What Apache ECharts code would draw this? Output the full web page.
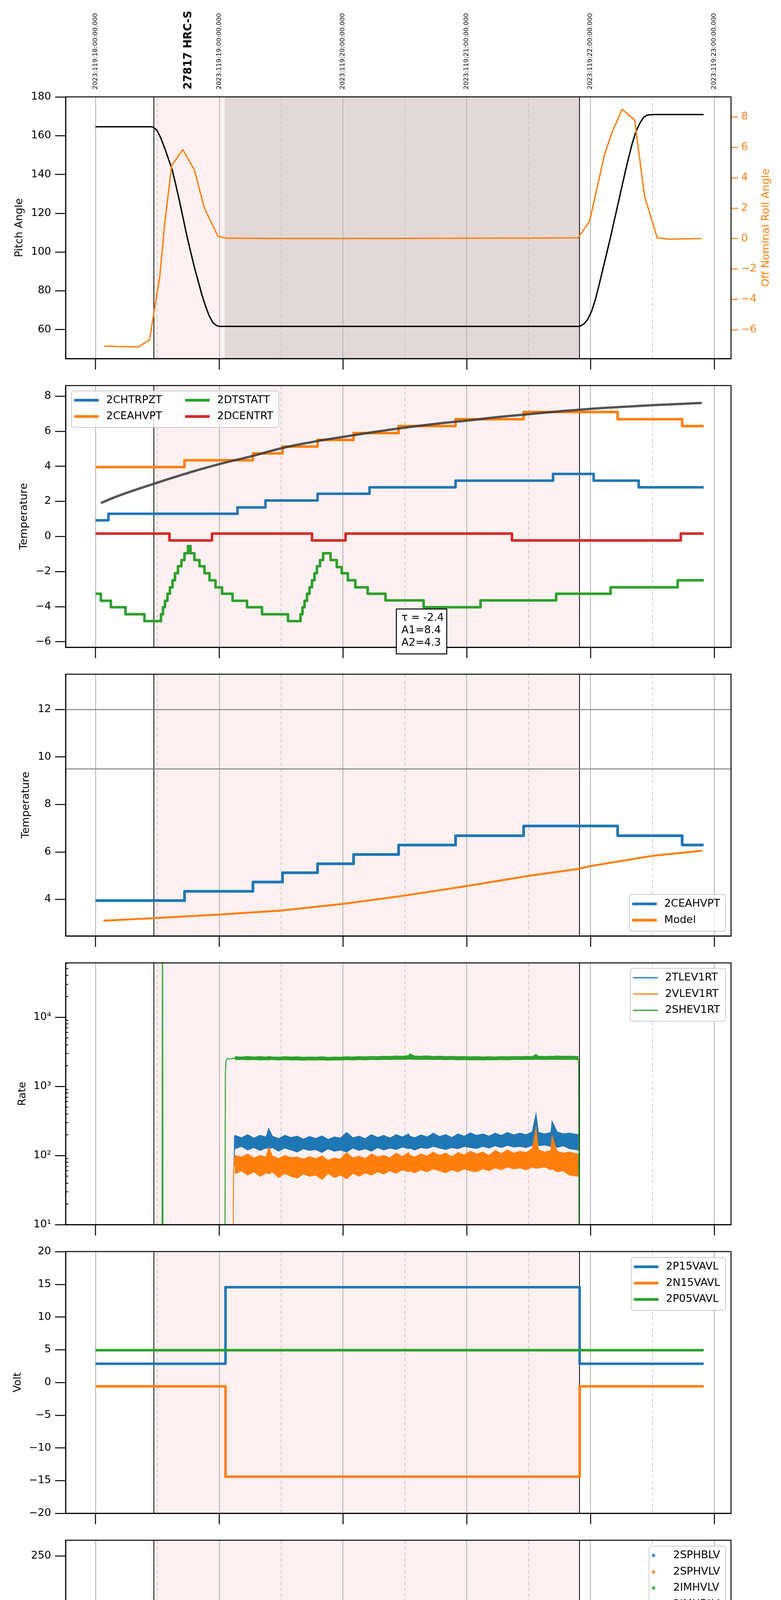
<!DOCTYPE html>
<html><head><meta charset="utf-8">
<script src="https://cdn.jsdelivr.net/npm/echarts@6/dist/echarts.min.js"></script>
<style>html,body{margin:0;padding:0;background:#fff}#c{width:2000px;height:6200px}</style>
</head><body><div id="c"></div>
<script>
// ---------------- DATA ----------------
const HOUR_TICKS = [14, 15, 16, 17, 18, 19];
const HALF_HOURS = [14.5, 15.5, 16.5, 17.5, 18.5];
const BOTTOM_LABEL_VALUES = [14, 14.5, 15, 15.5, 16, 16.5, 17, 17.5, 18, 18.5, 19];
const MINOR_LABEL = '30';
const UTC_LABELS = ['2023:119:18:00:00.000', '2023:119:19:00:00.000', '2023:119:20:00:00.000',
  '2023:119:21:00:00.000', '2023:119:22:00:00.000', '2023:119:23:00:00.000'];
const X_TITLE = '2023-04-29 (119)';
const OBSID_LABEL = '27817 HRC-S';
const FIT_TEXT = ['τ = -2.4', 'A1=8.4', 'A2=4.3'];
const OBS_START = 14.473, OBS_END = 17.913, DARK_START = 15.044;
const LIMIT_LINES_P3 = [12, 9.5];

const PITCH_TICKS = [60, 80, 100, 120, 140, 160, 180];
const ROLL_TICKS = [-6, -4, -2, 0, 2, 4, 6, 8];
const TEMP_TICKS = [-6, -4, -2, 0, 2, 4, 6, 8];
const CEA_TICKS = [4, 6, 8, 10, 12];
const RATE_TICKS = [10, 100, 1000, 10000];
const RATE_MINOR = [20, 30, 40, 50, 60, 70, 80, 90, 200, 300, 400, 500, 600, 700, 800, 900,
  2000, 3000, 4000, 5000, 6000, 7000, 8000, 9000, 20000, 30000, 40000, 50000, 60000];
const VOLT_TICKS = [-20, -15, -10, -5, 0, 5, 10, 15, 20];
const HV_TICKS = [0, 50, 100, 150, 200, 250];
const DET_TICKS = [0, 2.5, 5, 7.5, 10, 12.5, 15, 17.5];
const FEA_TICKS = [-10, -8, -6, -4, -2, 0];

// Panel 1
const pitch = [[14.0,164.6],[14.45,164.6],[14.47,164.3],[14.5,162.5],[14.53,158.5],[14.56,153.5],[14.59,148],
  [14.62,142.5],[14.65,134.5],[14.68,126],[14.71,117],[14.74,108],[14.77,100],[14.8,92],[14.83,85],[14.86,78],
  [14.89,72],[14.92,67],[14.95,63.5],[14.98,62],[15.0,61.6],[17.913,61.6],[17.95,63],[17.98,65.5],[18.01,69.5],
  [18.04,75.5],[18.07,83],[18.1,91],[18.13,99],[18.16,107],[18.19,115.5],[18.22,124],[18.25,132.5],[18.28,141],
  [18.31,149],[18.34,156.5],[18.37,162.5],[18.4,166.5],[18.43,169.5],[18.46,170.6],[18.5,170.9],[18.915,170.9]];
const roll = [[14.073,-7.07],[14.255,-7.12],[14.348,-7.12],[14.437,-6.68],[14.52,-2.5],[14.56,1.0],[14.616,4.8],
  [14.706,5.85],[14.8,4.5],[14.88,2.0],[14.99,0.15],[15.06,0.02],[15.5,0.0],[16.0,0.0],[16.5,0.01],[17.0,0.02],
  [17.5,0.03],[17.9,0.05],[17.993,1.13],[18.115,5.56],[18.175,7.0],[18.256,8.5],[18.357,7.8],[18.438,2.76],
  [18.54,0.04],[18.64,-0.04],[18.9,0.0]];

// Panel 2
const chtrpzt = [[14.0,0.92],[14.105,1.29],[15.148,1.65],[15.374,2.05],[15.795,2.43],[16.215,2.8],[16.91,3.18],
  [17.698,3.56],[18.026,3.18],[18.39,2.8],[18.915,2.8]];
const ceahvpt = [[14.0,3.95],[14.72,4.34],[15.273,4.73],[15.512,5.12],[15.795,5.5],[16.086,5.89],[16.45,6.29],
  [16.91,6.68],[17.46,7.09],[18.22,6.68],[18.741,6.29],[18.915,6.29]];
const dtstatt = [[14.0,-3.27],[14.044,-3.67],[14.125,-4.04],[14.243,-4.44],[14.396,-4.83],
  [14.53,-4.44],[14.546,-4.04],[14.562,-3.67],[14.582,-3.27],[14.602,-2.9],[14.623,-2.5],[14.643,-2.1],
  [14.667,-1.7],[14.695,-1.35],[14.72,-0.96],[14.748,-0.55],[14.768,-0.96],[14.8,-1.35],[14.841,-1.7],
  [14.881,-2.1],[14.922,-2.5],[14.97,-2.9],[15.023,-3.27],[15.108,-3.67],[15.225,-4.04],[15.346,-4.44],
  [15.556,-4.83],[15.657,-4.44],[15.673,-4.04],[15.69,-3.67],[15.71,-3.27],[15.73,-2.9],[15.75,-2.5],
  [15.77,-2.1],[15.79,-1.7],[15.815,-1.35],[15.84,-0.96],[15.9,-1.35],[15.95,-1.75],[15.99,-2.1],[16.04,-2.5],
  [16.1,-2.9],[16.2,-3.27],[16.344,-3.65],[16.652,-4.04],[17.112,-3.65],[17.723,-3.27],[18.163,-2.9],
  [18.705,-2.5],[18.915,-2.5]];
const dcentrt = [[14.0,0.16],[14.598,-0.23],[14.942,0.16],[15.75,-0.23],[16.021,0.16],[17.366,-0.23],
  [18.73,0.16],[18.915,0.16]];
const model2 = [[14.044,1.9],[14.2,2.35],[14.473,3.0],[14.75,3.62],[15.0,4.12],[15.25,4.55],[15.5,5.02],
  [15.75,5.38],[16.0,5.67],[16.25,5.95],[16.5,6.2],[16.75,6.42],[17.0,6.6],[17.25,6.8],[17.5,6.97],
  [17.75,7.13],[18.0,7.27],[18.25,7.38],[18.5,7.48],[18.75,7.56],[18.9,7.61]];

// Panel 3
const model3 = [[14.065,3.1],[14.473,3.21],[15.002,3.36],[15.5,3.53],[16.0,3.81],[16.5,4.16],[17.0,4.56],
  [17.5,4.99],[17.909,5.29],[17.998,5.4],[18.499,5.83],[18.903,6.05]];

// Panel 4 (rates)
const rateTimes = [15.13,15.18,15.23,15.28,15.33,15.38,15.40,15.43,15.48,15.53,
  15.58,15.63,15.68,15.73,15.78,15.83,15.88,15.93,15.98,16.03,
  16.08,16.13,16.18,16.23,16.28,16.33,16.38,16.43,16.48,16.53,
  16.54,16.58,16.63,16.68,16.73,16.78,16.83,16.88,16.93,16.98,
  17.03,17.08,17.13,17.18,17.23,17.28,17.33,17.38,17.43,17.48,
  17.53,17.56,17.58,17.63,17.68,17.69,17.73,17.78,17.83,17.90];
const tlevHigh = [195,180,200,178,195,185,245,190,175,195,
  182,190,172,188,176,192,170,185,178,215,
  180,190,175,200,182,195,178,200,185,205,
  190,180,198,185,210,188,200,182,205,190,
  212,195,205,190,210,195,215,198,210,200,
  220,400,215,205,215,310,220,205,210,200];
const tlevLow = [125,135,120,130,118,128,125,130,115,128,
  120,112,125,118,122,110,125,115,120,112,
  128,118,125,115,130,120,128,122,132,125,
  128,120,130,126,135,128,122,130,125,135,
  130,126,135,128,138,130,140,132,135,130,
  140,135,138,142,135,140,130,138,125,120];
const vlevHigh = [100,95,105,92,100,95,130,98,90,100,
  93,95,88,96,90,98,85,92,88,110,
  92,98,90,105,95,100,92,108,96,110,
  100,95,105,98,112,100,108,96,110,102,
  115,105,112,100,118,106,120,108,115,110,
  125,250,120,112,118,190,115,108,112,105];
const vlevLow = [55,60,52,58,50,56,54,58,48,55,
  50,47,54,50,52,45,55,48,52,46,
  55,50,56,52,58,54,60,55,62,58,
  60,56,62,58,64,60,56,62,58,64,
  60,58,64,60,66,62,68,64,66,62,
  68,65,66,68,62,64,58,60,52,50];
const shevHigh = [2680,2650,2700,2660,2690,2650,2700,2660,2640,2680,
  2650,2670,2630,2660,2640,2670,2620,2650,2640,2680,
  2660,2690,2670,2700,2680,2720,2700,2740,2720,2780,
  2950,2740,2720,2750,2700,2730,2690,2710,2680,2700,
  2670,2690,2660,2680,2660,2690,2670,2700,2680,2710,
  2690,2880,2720,2700,2730,2710,2740,2720,2730,2700];
const shevLow = [2420,2440,2410,2430,2400,2420,2410,2430,2390,2420,
  2400,2410,2380,2400,2390,2410,2380,2400,2390,2420,
  2400,2430,2410,2440,2420,2450,2430,2460,2440,2470,
  2460,2450,2440,2460,2430,2450,2420,2440,2410,2430,
  2400,2420,2400,2420,2410,2430,2420,2440,2430,2450,
  2440,2460,2450,2440,2460,2450,2460,2440,2450,2430];
const tlevStart = [[15.121,70],[15.124,190],[15.13,160]];
const vlevStart = [[15.112,1],[15.116,45],[15.12,90],[15.13,78]];
const shevSpike = [[14.538,1],[14.542,1000000],[14.546,1]];
const shevStart = [[15.046,1],[15.05,1500],[15.055,2300],[15.065,2520],[15.09,2480],[15.11,2560],[15.13,2550]];
const shevEnd = [[17.9,2560],[17.905,2000],[17.908,1]];

// Panel 5
const p15vavl = [[14.0,2.85],[15.051,14.55],[17.913,2.85],[18.915,2.85]];
const n15vavl = [[14.0,-0.59],[15.051,-14.4],[17.913,-0.59],[18.915,-0.59]];
const p05vavl = [[14.0,4.93],[18.915,4.93]];

// Panel 6
const sphblv = [[15.075,118],[15.079,102.4],[15.083,101.5],[15.091,97],[15.099,92.2],[15.112,87],[15.124,81.7]];
const sphblvFlat = [[15.13,77.5],[17.913,77.5]];
const sphvlv = [[15.071,127],[15.071,125.5],[15.073,124.3],[15.079,96],[15.087,91],[15.099,86],[15.112,80],[15.12,75],
  [15.82,69.4],[15.86,69.4],[16.33,69.4],[16.36,69.4],[16.52,69.4],[16.56,69.4],[16.6,69.4],[16.64,69.4],
  [16.68,69.4],[16.95,69.4],[17.0,69.4],[17.06,69.4],[17.12,69.4],[17.2,69.4],[17.3,69.4],[17.35,69.4],
  [17.45,69.4],[17.52,69.4],[17.58,69.4],[17.63,69.4],[17.7,69.4],[17.76,69.4],[17.84,69.4],[17.88,69.4]];
const sphvlvFlat = [[15.123,71.2],[17.913,71.2]];
const imhvlv = [];
const imhblv = [];

// Panel 7
const spinatm = [[15.051,4.15],[15.124,3.72],[15.245,3.25],[15.406,2.82],[15.669,3.25],[15.681,3.72],[15.697,4.15],
  [15.718,4.6],[15.73,5.05],[15.75,5.5],[15.77,5.95],[15.79,6.4],[15.811,6.9],[15.831,7.45],[15.892,6.9],
  [15.924,6.4],[15.953,5.95],[15.985,5.5],[16.034,5.05],[16.095,4.6],[16.156,4.15],[16.265,3.72],[16.411,3.25],
  [16.669,2.82],[17.9,2.82]];
const sphvatm = [[15.051,13.56],[15.156,13.9],[15.245,14.17],[15.31,14.45],[15.374,14.73],[15.447,15.0],
  [15.52,15.25],[15.597,15.56],[15.681,15.84],[15.783,16.12],[15.892,16.39],[16.025,16.67],[16.162,16.95],
  [16.328,17.25],[16.518,17.53],[16.732,17.8],[17.003,18.08],[17.306,18.36],[17.67,18.67],[17.9,15.3]];
const iminatm = [[15.051,0.25],[15.859,0.68],[15.862,0.3],[15.866,0.68],[17.9,0.68]];
const imhvatm = [[15.0,-60],[15.051,13.0],[15.386,13.3],[15.71,13.56],[16.005,13.87],[16.304,14.15],[16.619,14.42],
  [16.983,14.7],[17.387,14.98],[17.84,15.25],[17.913,60],[17.92,-60]];

// Panel 8
const fhtrmzt = [[14.0,-10.07],[14.307,-9.64],[15.257,-9.23],[15.419,-8.82],[15.576,-8.39],[15.742,-7.98],
  [15.88,-7.59],[16.041,-7.18],[16.195,-6.79],[16.365,-6.38],[16.538,-5.98],[16.708,-5.61],[16.87,-4.4],
  [16.875,-5.61],[16.894,-5.21],[17.092,-4.81],[17.17,-4.4],[17.175,-4.81],[17.298,-4.42],[17.496,-4.05],
  [17.719,-3.65],[17.884,-2.5],[17.89,-3.65],[17.945,-3.26],[18.163,-3.65],[18.499,-4.05],[18.915,-4.05]];
const fradpyt = [[14.0,-11.84],[14.006,-11.35],[14.881,-11.81],[15.346,-11.35],[15.528,-10.93],[15.718,-10.52],
  [15.9,-10.11],[16.082,-9.65],[16.264,-9.23],[16.45,-8.82],[16.652,-8.39],[16.87,-7.98],[17.076,-7.59],
  [17.298,-7.18],[17.537,-6.79],[17.775,-6.38],[18.236,-6.79],[18.64,-6.38],[18.915,-6.38]];
const fepratm = [[15.067,-8.21],[15.095,-7.81],[15.14,-7.42],[15.188,-7.03],[15.233,-6.62],[15.306,-6.23],
  [15.4,-5.83],[15.508,-5.43],[15.629,-5.04],[15.758,-4.65],[15.9,-4.25],[16.053,-3.85],[16.215,-3.45],
  [16.377,-3.05],[16.559,-2.64],[16.749,-2.25],[16.943,-1.84],[17.145,-1.43],[17.375,-1.03],[17.61,-0.62],
  [17.852,-0.2],[17.9,-0.2]];
const fe00atm = [[15.0,-30],[15.051,-7.5],[15.245,-7.1],[15.293,-7.55],[15.297,-7.1],[15.346,-6.72],[15.411,-5.6],
  [15.415,-6.72],[15.447,-6.34],[15.56,-6.0],[15.576,-5.5],[15.58,-6.0],[15.661,-5.62],[15.79,-5.23],[15.9,-4.89],
  [16.013,-4.55],[16.122,-5.3],[16.127,-4.55],[16.134,-4.17],[16.264,-3.81],[16.41,-3.46],[16.445,-2.78],
  [16.45,-3.46],[16.54,-3.12],[16.693,-2.8],[16.834,-2.44],[16.91,-2.84],[16.915,-2.44],[16.996,-2.12],
  [17.145,-1.78],[17.173,-2.75],[17.178,-1.78],[17.315,-1.46],[17.489,-1.12],[17.642,-0.8],[17.844,-0.43],
  [17.913,5],[17.92,-30]];

// ---------------- CHART ----------------
const FONT = 'DejaVu Sans';
const BLUE = '#1f77b4', ORANGE = '#ff7f0e', GREEN = '#2ca02c', RED = '#d62728';
const PINK = '#fdf0f0', DARK = '#e3d8d8';
const X_MIN = 13.759, X_MAX = 19.136;
const TOP0 = 248, STEP = 739, PH = 670, GL = 168, GR = 128, N = 8;
const YI = [0, 2, 3, 4, 6, 7, 8, 9];

const minus = v => (v < 0 ? '\u2212' + String(Math.abs(v)) : String(v));
const SUP = {1: '\u00b9', 2: '\u00b2', 3: '\u00b3', 4: '\u2074'};

const grids = [];
for (let i = 0; i < N; i++) {
  grids.push({left: GL, right: GR, top: TOP0 + STEP * i, height: PH, show: true,
    borderColor: '#000', borderWidth: 2.5, backgroundColor: 'transparent', z: 15});
}

const xAxes = [];
for (let i = 0; i < N; i++) {
  const last = i === N - 1;
  xAxes.push({
    type: 'value', gridIndex: i, position: 'bottom', min: X_MIN, max: X_MAX,
    axisLine: {show: true, onZero: false, lineStyle: {color: '#000', width: 2.5}},
    axisTick: {show: true, customValues: HOUR_TICKS, length: 28, lineStyle: {color: '#000', width: 2.5}},
    axisLabel: last ? {
      show: true, customValues: BOTTOM_LABEL_VALUES, margin: 8, color: '#000', fontFamily: FONT,
      formatter: v => Number.isInteger(v) ? '{maj|' + v + 'h}' : '{min|' + MINOR_LABEL + '}',
      rich: {maj: {fontSize: 27, fontFamily: FONT, color: '#000', padding: [29, 0, 0, 0]},
             min: {fontSize: 16.5, fontFamily: FONT, color: '#000'}}
    } : {show: false},
    splitLine: {show: false},
    name: last ? X_TITLE : '', nameLocation: 'middle', nameGap: 68,
    nameTextStyle: {fontSize: 33, fontFamily: FONT, color: '#000'}
  });
}
xAxes.push({
  type: 'value', gridIndex: 0, position: 'top', min: X_MIN, max: X_MAX,
  axisLine: {show: false},
  axisTick: {show: true, customValues: HOUR_TICKS, length: 10, lineStyle: {color: '#000', width: 2}},
  axisLabel: {show: true, customValues: HOUR_TICKS, rotate: 90, margin: 19, fontSize: 16.5, fontFamily: FONT,
    color: '#000', formatter: v => UTC_LABELS[HOUR_TICKS.indexOf(v)]},
  splitLine: {show: false}
});

function leftY(i, name, min, max, ticks, gap, fmt, type) {
  const ax = {
    type: type || 'value', gridIndex: i, position: 'left', min: min, max: max,
    axisLine: {show: true, onZero: false, lineStyle: {color: '#000', width: 2.5}},
    axisTick: {show: true, customValues: ticks, length: 27, lineStyle: {color: '#000', width: 2.5}},
    axisLabel: {show: true, customValues: ticks, margin: 37, fontSize: 27, fontFamily: FONT, color: '#000',
      formatter: fmt || minus},
    splitLine: {show: false},
    name: name, nameLocation: 'middle', nameGap: gap, nameRotate: 90,
    nameTextStyle: {fontSize: 27, fontFamily: FONT, color: '#000'}
  };
  if (type === 'log') ax.logBase = 10;
  return ax;
}
const yAxes = [
  leftY(0, 'Pitch Angle', 45, 180, PITCH_TICKS, 105),
  {type: 'value', gridIndex: 0, position: 'right', min: -7.9, max: 9.32,
    axisLine: {show: false},
    axisTick: {show: true, customValues: ROLL_TICKS, length: 18, lineStyle: {color: ORANGE, width: 2.5}},
    axisLabel: {show: true, customValues: ROLL_TICKS, margin: 26, fontSize: 27, fontFamily: FONT, color: ORANGE, formatter: minus},
    splitLine: {show: false},
    name: 'Off Nominal Roll Angle', nameLocation: 'middle', nameGap: 76, nameRotate: 90,
    nameTextStyle: {fontSize: 27, fontFamily: FONT, color: ORANGE}},
  leftY(1, 'Temperature', -6.32, 8.6, TEMP_TICKS, 93),
  leftY(2, 'Temperature', 2.46, 13.48, CEA_TICKS, 88),
  leftY(3, 'Rate', 10, 60800, RATE_TICKS, 97, v => '10' + SUP[Math.round(Math.log10(v))], 'log'),
  {type: 'log', logBase: 10, gridIndex: 3, position: 'left', min: 10, max: 60800,
    axisLine: {show: false},
    axisTick: {show: true, inside: true, customValues: RATE_MINOR, length: 7, lineStyle: {color: '#000', width: 2}},
    axisLabel: {show: false}, splitLine: {show: false}},
  leftY(4, 'Volt', -20, 20, VOLT_TICKS, 109),
  leftY(5, 'HV Monitor', 0, 266, HV_TICKS, 103),
  leftY(6, 'Detector Temp', -1.26, 19.59, DET_TICKS, 113, v => (v < 0 ? '\u2212' : '') + Math.abs(v).toFixed(1)),
  leftY(7, 'FEA Temp', -12.01, 0.07, FEA_TICKS, 109)
];

const series = [];

function gridLineData() {
  const d = [];
  HOUR_TICKS.forEach(h => d.push({xAxis: h, lineStyle: {color: '#b0b0b0', width: 2, type: 'solid'}}));
  HALF_HOURS.forEach(h => d.push({xAxis: h, lineStyle: {color: '#bdbdbd', width: 1.5, type: [9, 6]}}));
  d.push({xAxis: OBS_START, lineStyle: {color: '#000', width: 2, type: 'solid'}});
  d.push({xAxis: OBS_END, lineStyle: {color: '#000', width: 2, type: 'solid'}});
  return d;
}
for (let i = 0; i < N; i++) {
  series.push({type: 'line', name: '_area' + i, xAxisIndex: i, yAxisIndex: YI[i], data: [], z: 1, silent: true,
    markArea: {silent: true, z: 1, itemStyle: {color: PINK}, data: [[{xAxis: OBS_START}, {xAxis: OBS_END}]]}});
  if (i === 0) {
    series.push({type: 'line', name: '_dark', xAxisIndex: 0, yAxisIndex: 0, data: [], z: 1, silent: true,
      markArea: {silent: true, z: 2, itemStyle: {color: DARK}, data: [[{xAxis: DARK_START}, {xAxis: OBS_END}]]}});
  }
  const gl = gridLineData();
  if (i === 2) LIMIT_LINES_P3.forEach(v => gl.push({yAxis: v, lineStyle: {color: '#808080', width: 2.5, type: 'solid'}}));
  series.push({type: 'line', name: '_grid' + i, xAxisIndex: i, yAxisIndex: YI[i], data: [], z: 2, silent: true,
    markLine: {silent: true, z: 3, symbol: ['none', 'none'], label: {show: false}, data: gl}});
}

function line(name, xi, yi, data, color, width, extra) {
  return Object.assign({type: 'line', name: name, xAxisIndex: xi, yAxisIndex: yi, data: data,
    showSymbol: false, symbol: 'none', clip: true, z: 10, silent: true,
    lineStyle: {color: color, width: width, join: 'round', cap: 'butt'}, itemStyle: {color: color}}, extra || {});
}
function band(name, xi, yi, times, hi, lo, color) {
  return {type: 'custom', name: name, xAxisIndex: xi, yAxisIndex: yi, z: 10, silent: true,
    itemStyle: {color: color}, data: [[times[0], hi[0]]],
    renderItem: function (params, api) {
      const pts = [];
      for (let k = 0; k < times.length; k++) pts.push(api.coord([times[k], hi[k]]));
      for (let k = times.length - 1; k >= 0; k--) pts.push(api.coord([times[k], lo[k]]));
      return {type: 'polygon', shape: {points: pts}, style: {fill: color, stroke: color, lineWidth: 2}};
    }};
}
const STEP_END = {step: 'end'};

// Panel 1
series.push(line('Pitch', 0, 0, pitch, '#000', 3.5));
series.push(line('Roll', 0, 1, roll, ORANGE, 3.5));
// Panel 2
series.push(line('2CHTRPZT', 1, 2, chtrpzt, BLUE, 6.5, STEP_END));
series.push(line('2CEAHVPT', 1, 2, ceahvpt, ORANGE, 6.5, STEP_END));
series.push(line('2DTSTATT', 1, 2, dtstatt, GREEN, 6.5, STEP_END));
series.push(line('2DCENTRT', 1, 2, dcentrt, RED, 6.5, STEP_END));
series.push(line('_model2', 1, 2, model2, 'rgba(60,60,60,0.88)', 6, {smooth: true, z: 11}));
// Panel 3
series.push(line('2CEAHVPT', 2, 3, ceahvpt, BLUE, 7, STEP_END));
series.push(line('Model', 2, 3, model3, ORANGE, 5));
// Panel 4
series.push(band('2TLEV1RT', 3, 4, rateTimes, tlevHigh, tlevLow, BLUE));
series.push(line('2TLEV1RT', 3, 4, tlevStart, BLUE, 2.5));
series.push(band('2VLEV1RT', 3, 4, rateTimes, vlevHigh, vlevLow, ORANGE));
series.push(line('2VLEV1RT', 3, 4, vlevStart, ORANGE, 2.5));
series.push(band('2SHEV1RT', 3, 4, rateTimes, shevHigh, shevLow, GREEN));
series.push(line('2SHEV1RT', 3, 4, shevSpike, GREEN, 2.5));
series.push(line('2SHEV1RT', 3, 4, shevStart, GREEN, 2.5));
series.push(line('2SHEV1RT', 3, 4, shevEnd, GREEN, 2.5));
// Panel 5
series.push(line('2P15VAVL', 4, 6, p15vavl, BLUE, 6.5, STEP_END));
series.push(line('2N15VAVL', 4, 6, n15vavl, ORANGE, 6.5, STEP_END));
series.push(line('2P05VAVL', 4, 6, p05vavl, GREEN, 6.5));
// Panel 6
function scat(name, data, color) {
  return {type: 'scatter', name: name, xAxisIndex: 5, yAxisIndex: 7, data: data, symbol: 'circle', symbolSize: 9,
    z: 10, silent: true, itemStyle: {color: color}};
}
series.push(line('_sphblvFlat', 5, 7, sphblvFlat, BLUE, 10));
series.push(scat('2SPHBLV', sphblv, BLUE));
series.push(line('_sphvlvFlat', 5, 7, sphvlvFlat, ORANGE, 10, {z: 11}));
series.push(Object.assign(scat('2SPHVLV', sphvlv, ORANGE), {z: 11}));
series.push(scat('2IMHVLV', imhvlv, GREEN));
series.push(scat('2IMHBLV', imhblv, RED));
// Panel 7
series.push(line('2SPINATM', 6, 8, spinatm, BLUE, 6.5, STEP_END));
series.push(line('2SPHVATM', 6, 8, sphvatm, ORANGE, 6.5, STEP_END));
series.push(line('2IMINATM', 6, 8, iminatm, GREEN, 6.5, STEP_END));
series.push(line('2IMHVATM', 6, 8, imhvatm, RED, 6.5, STEP_END));
// Panel 8
series.push(line('2FHTRMZT', 7, 9, fhtrmzt, BLUE, 6.5, STEP_END));
series.push(line('2FRADPYT', 7, 9, fradpyt, ORANGE, 6.5, STEP_END));
series.push(line('2FEPRATM', 7, 9, fepratm, GREEN, 6.5, STEP_END));
series.push(line('2FE00ATM', 7, 9, fe00atm, RED, 6.5, STEP_END));

// Legends
const LEG_TEXT = {fontSize: 27, fontFamily: FONT, color: '#000', lineHeight: 28,
  rich: {t: {fontSize: 27, fontFamily: FONT, color: '#000', padding: [0, 0, 0, 14]}}};
function legendBox(top, items, iconH, icon, boxed, left) {
  const lg = {show: true, orient: 'vertical', top: top, z: 20, itemWidth: 63, itemHeight: iconH, itemGap: 13.7,
    selectedMode: false, formatter: '{t|{name}}', textStyle: LEG_TEXT, icon: icon,
    data: items.map(it => ({name: it[0], icon: icon, itemStyle: {color: it[1], borderWidth: 0}}))};
  if (boxed) {
    Object.assign(lg, {right: 142, padding: [10, 14, 14, 7], backgroundColor: 'rgba(255,255,255,0.8)',
      borderColor: '#cccccc', borderWidth: 2, borderRadius: 6});
  } else {
    Object.assign(lg, {left: left, padding: 0});
  }
  return lg;
}
const legends = [
  legendBox(1010.6, [['2CHTRPZT', BLUE], ['2CEAHVPT', ORANGE]], 7, 'rect', false, 190),
  legendBox(1010.6, [['2DTSTATT', GREEN], ['2DCENTRT', RED]], 7, 'rect', false, 474),
  legendBox(2290, [['2CEAHVPT', BLUE], ['Model', ORANGE]], 7, 'rect', true),
  legendBox(2479, [['2TLEV1RT', BLUE], ['2VLEV1RT', ORANGE], ['2SHEV1RT', GREEN]], 3, 'rect', true),
  legendBox(3219, [['2P15VAVL', BLUE], ['2N15VAVL', ORANGE], ['2P05VAVL', GREEN]], 7, 'rect', true),
  legendBox(3958, [['2SPHBLV', BLUE], ['2SPHVLV', ORANGE], ['2IMHVLV', GREEN], ['2IMHBLV', RED]], 9, 'circle', true),
  legendBox(4695, [['2SPINATM', BLUE], ['2SPHVATM', ORANGE], ['2IMINATM', GREEN], ['2IMHVATM', RED]], 7, 'rect', true),
  legendBox(5434, [['2FHTRMZT', BLUE], ['2FRADPYT', ORANGE], ['2FEPRATM', GREEN], ['2FE00ATM', RED]], 7, 'rect', true)
];

const graphic = [
  {type: 'text', x: 483, y: 229, rotation: Math.PI / 2, z: 30,
    style: {text: OBSID_LABEL, font: 'bold 27.5px "DejaVu Sans"', fill: '#000', align: 'left', verticalAlign: 'middle',
      textAlign: 'left', textVerticalAlign: 'middle'}},
  {type: 'rect', z: 18, shape: {x: 183, y: 1001, width: 531, height: 93, r: 6},
    style: {fill: 'rgba(255,255,255,0.8)', stroke: '#cccccc', lineWidth: 2}},
  {type: 'rect', z: 30, shape: {x: 1015, y: 1559, width: 129, height: 115},
    style: {fill: '#fff', stroke: '#000', lineWidth: 2.5}},
  {type: 'text', z: 31, x: 1028, y: 1566,
    style: {text: FIT_TEXT.join('\n'), font: '27px "DejaVu Sans"', lineHeight: 32, fill: '#000',
      align: 'left', verticalAlign: 'top', textAlign: 'left', textVerticalAlign: 'top'}}
];

const option = {
  animation: false,
  backgroundColor: '#fff',
  textStyle: {fontFamily: FONT},
  grid: grids, xAxis: xAxes, yAxis: yAxes, series: series, legend: legends, graphic: graphic
};
const chart = echarts.init(document.getElementById('c'), null, {width: 2000, height: 6200, renderer: 'canvas'});
chart.setOption(option);
</script></body></html>
